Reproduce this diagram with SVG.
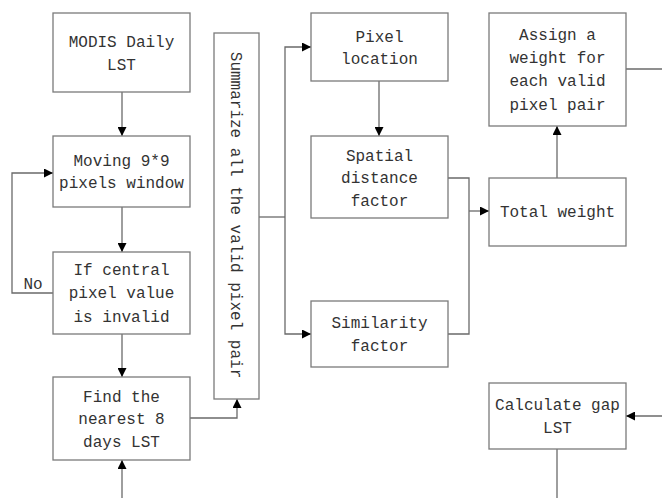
<svg xmlns="http://www.w3.org/2000/svg" width="662" height="498" viewBox="0 0 662 498">
<style>
.box{fill:#fff;stroke:#7a7a7a;stroke-width:1.3}
.t{font-family:"Liberation Mono",monospace;font-size:16px;fill:#333;text-anchor:middle}
.c{fill:none;stroke:#6a6a6a;stroke-width:1.3}
</style>
<defs>
<marker id="ah" viewBox="0 0 10 10" refX="10" refY="5" markerWidth="9" markerHeight="9" markerUnits="userSpaceOnUse" orient="auto">
<path d="M0,0 L10,5 L0,10 z" fill="#000"/>
</marker>
</defs>
<rect width="662" height="498" fill="#fff"/>
<g id="connectors">
<path class="c" d="M122,92 V136" marker-end="url(#ah)"/>
<path class="c" d="M122,207 V252" marker-end="url(#ah)"/>
<path class="c" d="M122,334 V377" marker-end="url(#ah)"/>
<path class="c" d="M122,498 V460" marker-end="url(#ah)"/>
<path class="c" d="M53,293 H12 V173 H53" marker-end="url(#ah)"/>
<path class="c" d="M190,418 H237 V399" marker-end="url(#ah)"/>
<path class="c" d="M259,217 H285"/>
<path class="c" d="M285,217 V47 H311" marker-end="url(#ah)"/>
<path class="c" d="M285,217 V334 H311" marker-end="url(#ah)"/>
<path class="c" d="M379,81 V136" marker-end="url(#ah)"/>
<path class="c" d="M448,178 H469 V334 H448"/>
<path class="c" d="M469,211 H489" marker-end="url(#ah)"/>
<path class="c" d="M557,178 V126" marker-end="url(#ah)"/>
<path class="c" d="M626,69 H662"/>
<path class="c" d="M662,416 H626" marker-end="url(#ah)"/>
<path class="c" d="M557,449 V498"/>
<text class="t" x="33" y="289">No</text>
</g>
<g id="modis"><rect class="box" x="53" y="13" width="137" height="79"/>
<text class="t" x="121.5" y="47">MODIS Daily</text><text class="t" x="121.5" y="70">LST</text></g>
<g id="moving"><rect class="box" x="53" y="136" width="137" height="71"/>
<text class="t" x="121.5" y="166">Moving 9*9</text><text class="t" x="121.5" y="188">pixels window</text></g>
<g id="ifcentral"><rect class="box" x="53" y="252" width="137" height="82"/>
<text class="t" x="121.5" y="275">If central</text><text class="t" x="121.5" y="298">pixel value</text><text class="t" x="121.5" y="322">is invalid</text></g>
<g id="find"><rect class="box" x="53" y="377" width="137" height="83"/>
<text class="t" x="121.5" y="402">Find the</text><text class="t" x="121.5" y="424">nearest 8</text><text class="t" x="121.5" y="447">days LST</text></g>
<g id="summarize"><rect class="box" x="214" y="33" width="45" height="366"/>
<text class="t" transform="translate(236.5,215) rotate(90)" x="0" y="0" dy="0.35em">Summarize all the valid pixel pair</text></g>
<g id="pixelloc"><rect class="box" x="311" y="13" width="137" height="68"/>
<text class="t" x="379.5" y="42">Pixel</text><text class="t" x="379.5" y="64">location</text></g>
<g id="spatial"><rect class="box" x="311" y="136" width="137" height="82"/>
<text class="t" x="379.5" y="161">Spatial</text><text class="t" x="379.5" y="183">distance</text><text class="t" x="379.5" y="206">factor</text></g>
<g id="similarity"><rect class="box" x="311" y="301" width="137" height="66"/>
<text class="t" x="379.5" y="328">Similarity</text><text class="t" x="379.5" y="351">factor</text></g>
<g id="assign"><rect class="box" x="489" y="13" width="137" height="113"/>
<text class="t" x="557.5" y="40">Assign a</text><text class="t" x="557.5" y="63">weight for</text><text class="t" x="557.5" y="86">each valid</text><text class="t" x="557.5" y="110">pixel pair</text></g>
<g id="total"><rect class="box" x="489" y="178" width="137" height="68"/>
<text class="t" x="557.5" y="217">Total weight</text></g>
<g id="calcgap"><rect class="box" x="489" y="383" width="137" height="66"/>
<text class="t" x="557.5" y="410">Calculate gap</text><text class="t" x="557.5" y="433">LST</text></g>
</svg>
